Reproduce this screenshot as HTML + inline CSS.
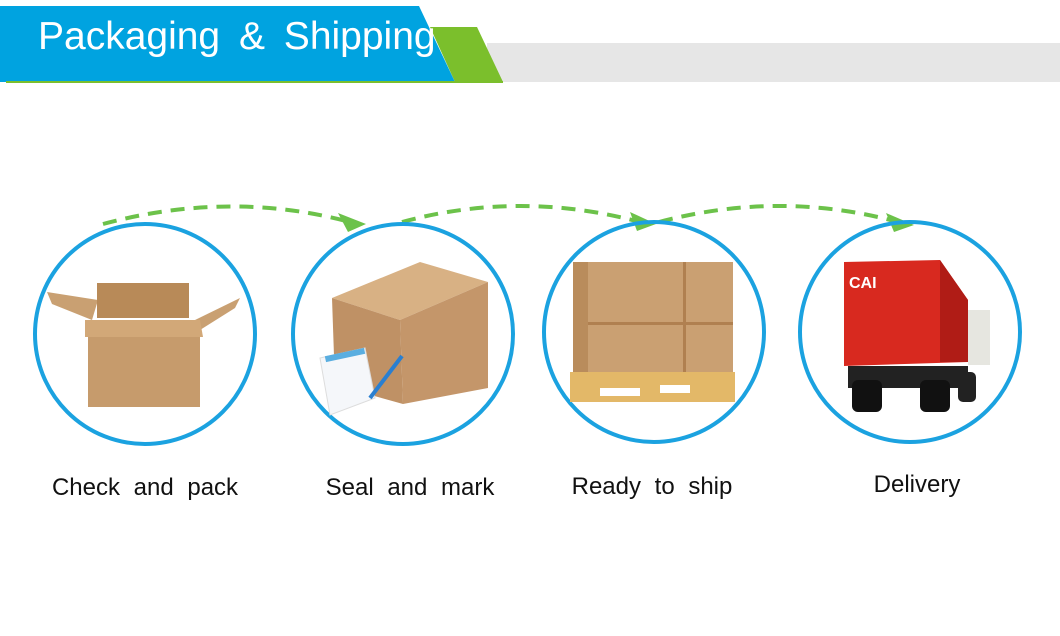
<!DOCTYPE html>
<html><head><meta charset="utf-8"><style>
html,body{margin:0;padding:0;background:#fff;}
body{width:1060px;height:636px;position:relative;overflow:hidden;font-family:"Liberation Sans",sans-serif;}
.lbl{position:absolute;font-size:24px;color:#111;text-align:center;width:260px;word-spacing:7px;}
</style></head><body>
<svg width="1060" height="636" style="position:absolute;left:0;top:0">
<rect x="487" y="43" width="573" height="39" fill="#e6e6e6"/>
<polygon points="430,27 477,27 503,82 455,82" fill="#7bbf2c"/>
<polygon points="0,6 419,6 455,82 0,82" fill="#00a3e0"/>
<rect x="6" y="81" width="497" height="2" fill="#7bbf2c"/>
<text x="38" y="49" font-family="Liberation Sans" font-size="39" fill="#fff" word-spacing="8">Packaging &amp; Shipping</text>
<g fill="none" stroke="#6cc24a" stroke-width="4" stroke-dasharray="14,9">
<path d="M103,224 Q230,190 350,222"/>
<path d="M402,222 Q520,190 640,222"/>
<path d="M659,222 Q780,190 898,222"/>
</g>
<g fill="#6cc24a">
<polygon points="338,213 366,224 348,232"/>
<polygon points="630,212 656,224 637,231"/>
<polygon points="886,213 914,225 894,232"/>
</g>
<g fill="none" stroke="#1ba2e0" stroke-width="4">
<circle cx="145" cy="334" r="110"/>
<circle cx="403" cy="334" r="110"/>
<circle cx="654" cy="332" r="110"/>
<circle cx="910" cy="332" r="110"/>
</g>
<polygon points="47,292 98,300 92,320 52,304" fill="#c9a072"/>
<polygon points="195,320 240,298 235,308 200,330" fill="#c9a072"/>
<rect x="97" y="283" width="92" height="35" fill="#b88a58"/>
<polygon points="85,320 200,320 203,337 85,337" fill="#d2a878"/>
<rect x="88" y="337" width="112" height="70" fill="#c69b6c"/>
<polygon points="332,298 420,262 488,282 400,320" fill="#d8b184"/>
<polygon points="400,320 488,282 488,388 403,404" fill="#c4966a"/>
<polygon points="332,298 400,320 403,404 335,385" fill="#bf9165"/>
<polygon points="320,358 365,348 375,398 330,415" fill="#f5f7fa" stroke="#ddd"/>
<rect x="325" y="352" width="40" height="6" fill="#5aaee0" transform="rotate(-12 345 355)"/>
<line x1="370" y1="398" x2="402" y2="356" stroke="#2a7fd0" stroke-width="4"/>
<rect x="573" y="262" width="160" height="120" fill="#caa072"/>
<rect x="573" y="322" width="160" height="3" fill="#b08050"/>
<rect x="683" y="262" width="3" height="120" fill="#b08050"/>
<rect x="573" y="262" width="15" height="120" fill="#b98c5c"/>
<rect x="570" y="372" width="165" height="30" fill="#e3b868"/>
<rect x="600" y="388" width="40" height="8" fill="#fff"/>
<rect x="660" y="385" width="30" height="8" fill="#fff"/>
<polygon points="844,262 940,260 968,300 968,362 844,366" fill="#d8291f"/>
<polygon points="940,260 968,300 968,362 940,362" fill="#b01c16"/>
<rect x="968" y="310" width="22" height="55" fill="#e6e6e0"/>
<rect x="848" y="366" width="120" height="22" fill="#222"/>
<rect x="852" y="380" width="30" height="32" rx="6" fill="#111"/>
<rect x="920" y="380" width="30" height="32" rx="6" fill="#111"/>
<rect x="958" y="372" width="18" height="30" rx="5" fill="#222"/>
<text x="849" y="288" font-family="Liberation Sans" font-weight="bold" font-size="16" fill="#fff">CAI</text>
</svg>
<div class="lbl" style="left:15px;top:474px">Check and pack</div>
<div class="lbl" style="left:280px;top:474px">Seal and mark</div>
<div class="lbl" style="left:522px;top:473px">Ready to ship</div>
<div class="lbl" style="left:787px;top:471px">Delivery</div>
</body></html>
